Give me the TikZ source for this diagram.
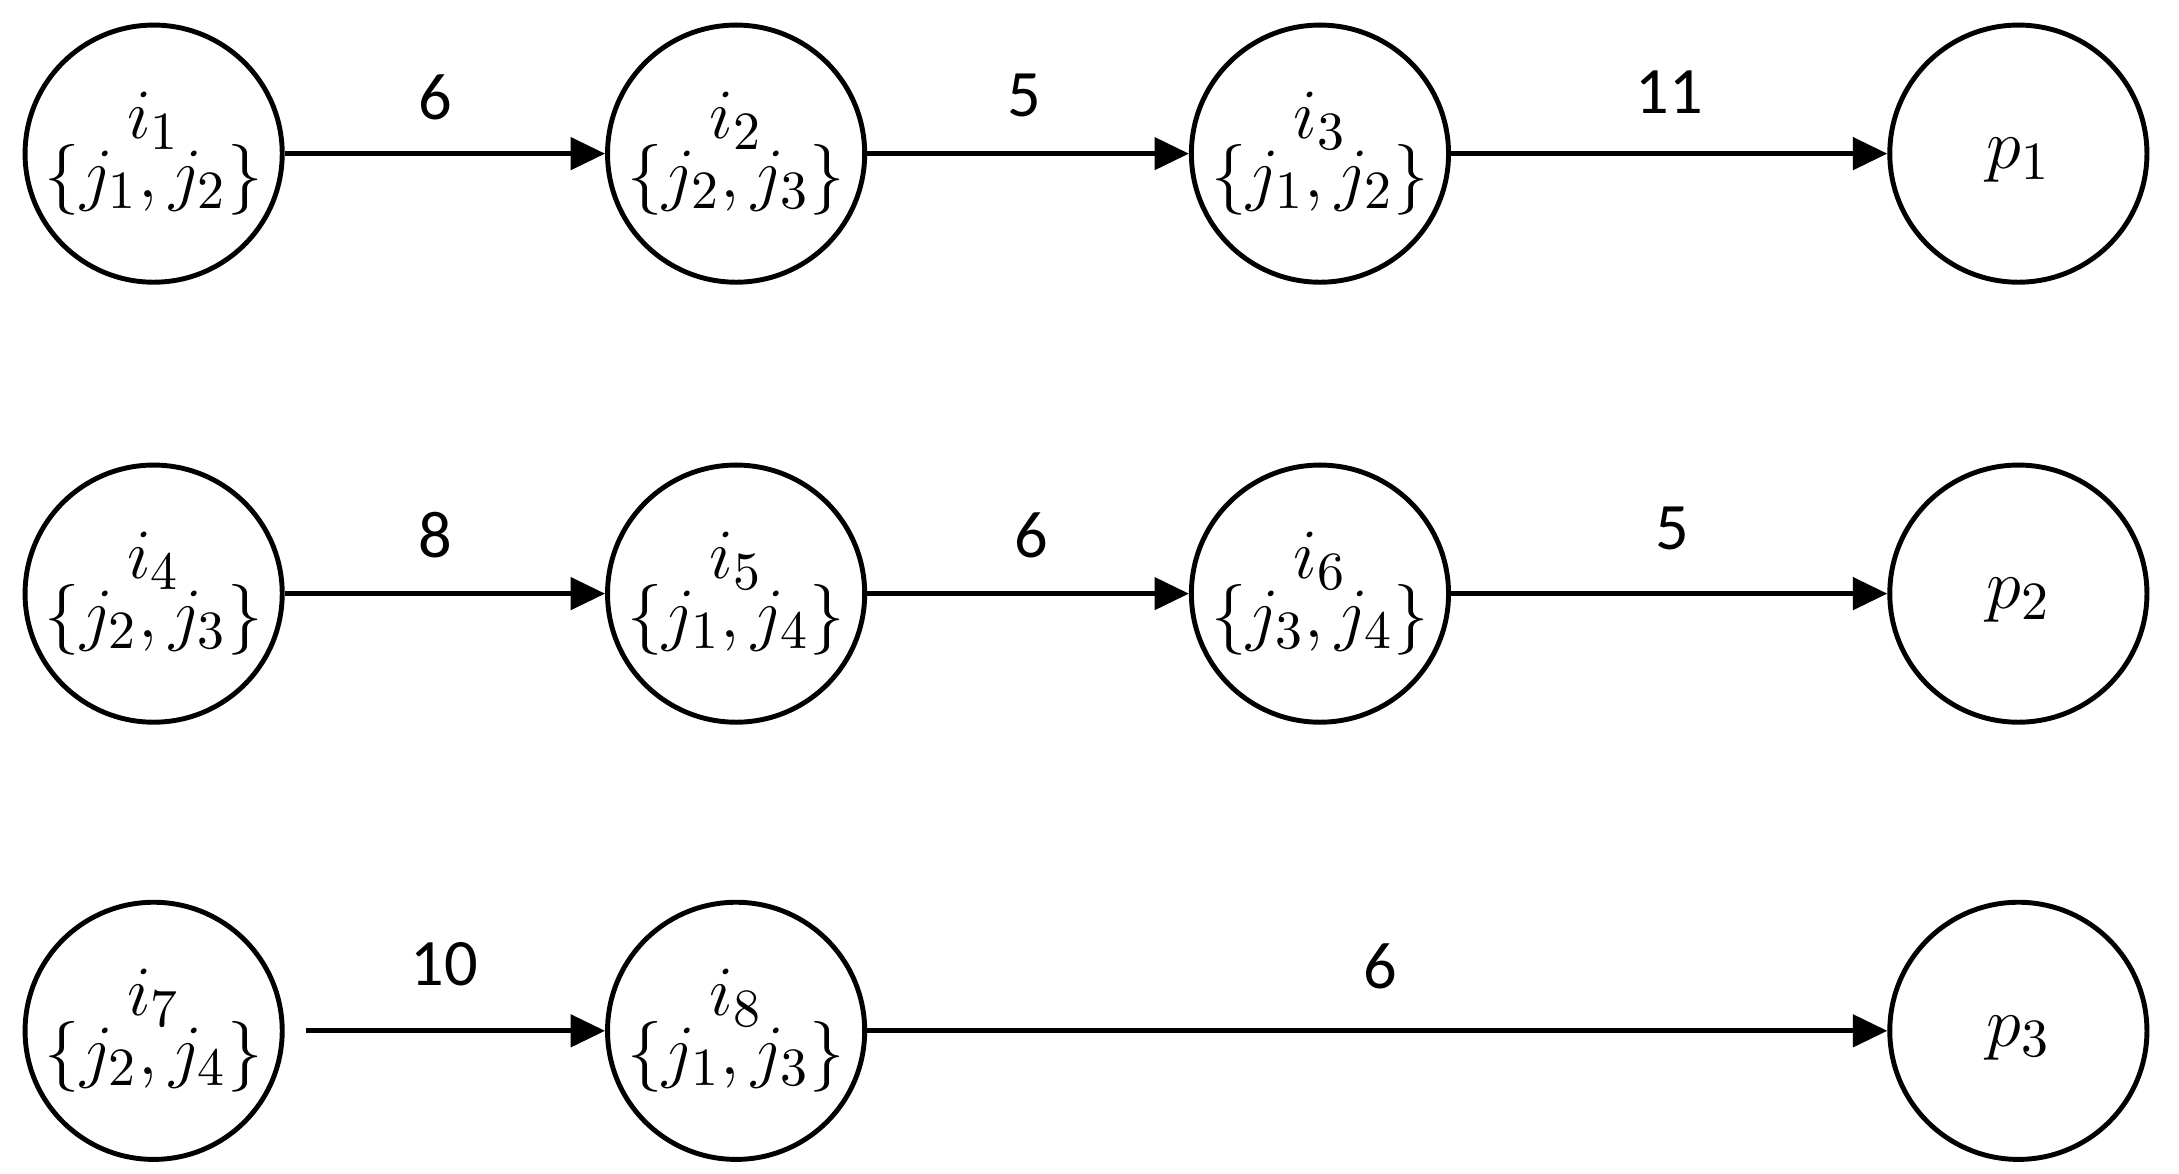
\documentclass[tikz,border=0pt]{standalone}
\usepackage{fontspec}
\setmainfont{Carlito}
\usetikzlibrary{arrows.meta}
\begin{document}
\begin{tikzpicture}[x=0.01cm,y=-0.01cm,
  st/.style={circle,draw,line width=1pt,minimum size=1.84cm,inner sep=-20pt,align=center,font=\fontsize{15}{16}\selectfont},
  ar/.style={line width=1pt,-{Triangle[length=7pt,width=6.5pt]}},
  lb/.style={font=\fontsize{13.5}{16}\selectfont}]
\useasboundingbox (0,0) rectangle (1560,840);
\node[st] (i1) at (110,110) {$i_1$\\[-4pt]$\{j_1,j_2\}$};
\node[st] (i2) at (527,110) {$i_2$\\[-4pt]$\{j_2,j_3\}$};
\node[st] (i3) at (945,110) {$i_3$\\[-4pt]$\{j_1,j_2\}$};
\node[st,text depth=-12pt] (p1) at (1445,110) {$p_1$};
\node[st] (i4) at (110,425) {$i_4$\\[-4pt]$\{j_2,j_3\}$};
\node[st] (i5) at (527,425) {$i_5$\\[-4pt]$\{j_1,j_4\}$};
\node[st] (i6) at (945,425) {$i_6$\\[-4pt]$\{j_3,j_4\}$};
\node[st,text depth=-12pt] (p2) at (1445,425) {$p_2$};
\node[st] (i7) at (110,738) {$i_7$\\[-4pt]$\{j_2,j_4\}$};
\node[st] (i8) at (527,738) {$i_8$\\[-4pt]$\{j_1,j_3\}$};
\node[st,text depth=-12pt] (p3) at (1445,738) {$p_3$};
\draw[ar] (i1) -- (i2);
\draw[ar] (i2) -- (i3);
\draw[ar] (i3) -- (p1);
\draw[ar] (i4) -- (i5);
\draw[ar] (i5) -- (i6);
\draw[ar] (i6) -- (p2);
\draw[ar,shorten <=0.15cm] (i7) -- (i8);
\draw[ar] (i8) -- (p3);
\node[lb] (l1) at (312,70) {6};
\node[lb] (l2) at (733,68) {5};
\node[lb] (l3) at (1195,66) {11};
\node[lb] (l4) at (312,383) {8};
\node[lb] (l5) at (738,383) {6};
\node[lb] (l6) at (1197,378) {5};
\node[lb] (l7) at (318,690) {10};
\node[lb] (l8) at (988,692) {6};
\end{tikzpicture}
\end{document}
